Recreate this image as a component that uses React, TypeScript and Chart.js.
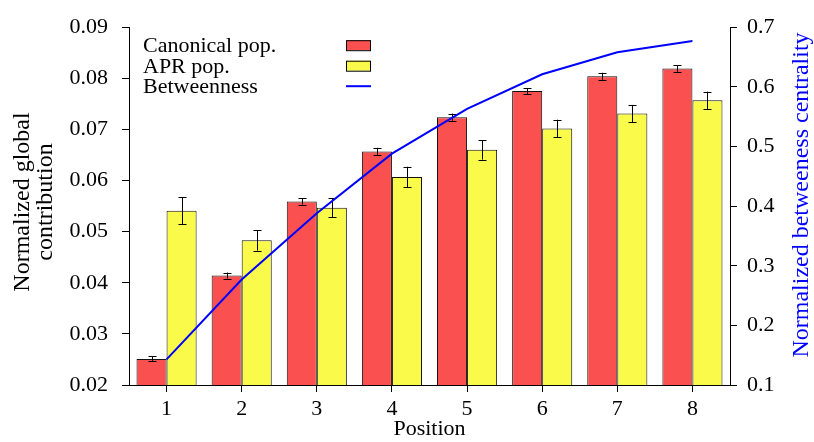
import { useEffect, useRef } from 'react';
import { Chart, registerables } from 'chart.js';

Chart.register(...registerables);

const FONT = "'Liberation Serif', 'Times New Roman', Times, serif";

const positions = ['1', '2', '3', '4', '5', '6', '7', '8'];
const canonicalPop = [0.0251, 0.0414, 0.0559, 0.0657, 0.0724, 0.0775, 0.0804, 0.0819];
const canonicalErr = [0.0005, 0.0006, 0.0006, 0.0007, 0.0007, 0.0006, 0.0007, 0.0007];
const aprPop = [0.0541, 0.0483, 0.0547, 0.0607, 0.066, 0.0702, 0.0731, 0.0757];
const aprErr = [0.0026, 0.002, 0.0019, 0.002, 0.0019, 0.0017, 0.0017, 0.0017];
const betweenness = [0.143, 0.277, 0.388, 0.488, 0.563, 0.621, 0.658, 0.677];

const RED = 'rgb(250,80,80)';
const YELLOW = 'rgb(250,250,75)';
const BLUE = 'rgb(0,0,255)';

const errorBarPlugin = {
  id: 'errorBars',
  afterDatasetDraw(chart: any, args: any) {
    const ds = chart.data.datasets[args.index];
    const errs: number[] | undefined = ds.errors;
    if (!errs) return;
    const ctx = chart.ctx;
    const yScale = chart.scales.y;
    ctx.save();
    ctx.strokeStyle = '#000';
    ctx.lineWidth = 1;
    args.meta.data.forEach((bar: any, i: number) => {
      const v = ds.data[i];
      const e = errs[i];
      const top = yScale.getPixelForValue(v + e);
      const bot = yScale.getPixelForValue(v - e);
      const x = Math.round(bar.x) + 0.5;
      ctx.beginPath();
      ctx.moveTo(x, top);
      ctx.lineTo(x, bot);
      ctx.moveTo(x - 4, Math.round(top) + 0.5);
      ctx.lineTo(x + 4, Math.round(top) + 0.5);
      ctx.moveTo(x - 4, Math.round(bot) + 0.5);
      ctx.lineTo(x + 4, Math.round(bot) + 0.5);
      ctx.stroke();
    });
    ctx.restore();
  },
};

const decorPlugin = {
  id: 'decor',
  afterDraw(chart: any) {
    const ctx = chart.ctx;
    const area = chart.chartArea;
    ctx.save();
    // legend
    ctx.font = `22px ${FONT}`;
    ctx.fillStyle = '#000';
    ctx.textAlign = 'left';
    ctx.textBaseline = 'alphabetic';
    const lx = area.left + 14;
    const sx = area.left + 217;
    const entries = [
      { label: 'Canonical pop.', kind: 'box', color: RED },
      { label: 'APR pop.', kind: 'box', color: YELLOW },
      { label: 'Betweenness', kind: 'line', color: BLUE },
    ];
    entries.forEach((en, i) => {
      const base = area.top + 25 + i * 20.5;
      ctx.fillStyle = '#000';
      ctx.fillText(en.label, lx, base);
      if (en.kind === 'box') {
        ctx.fillStyle = en.color;
        ctx.fillRect(sx, base - 12, 25, 10);
        ctx.strokeStyle = '#000';
        ctx.lineWidth = 1;
        ctx.strokeRect(sx + 0.5, base - 11.5, 24, 10);
      } else {
        ctx.strokeStyle = en.color;
        ctx.lineWidth = 2;
        ctx.beginPath();
        ctx.moveTo(sx, base - 7);
        ctx.lineTo(sx + 25, base - 7);
        ctx.stroke();
      }
    });

    // left title
    ctx.font = `24px ${FONT}`;
    ctx.textAlign = 'center';
    ctx.fillStyle = '#000';
    const ly = 202;
    [['Normalized global', 29], ['contribution', 52]].forEach(([t, x]) => {
      ctx.save();
      ctx.translate(x as number, ly);
      ctx.rotate(-Math.PI / 2);
      ctx.fillText(t as string, 0, 0);
      ctx.restore();
    });

    // right title
    ctx.save();
    ctx.fillStyle = BLUE;
    ctx.translate(808, 195);
    ctx.rotate(-Math.PI / 2);
    ctx.fillText('Normalized betweeness centrality', 0, 0);
    ctx.restore();

    ctx.restore();
  },
};

export default function App() {
  const ref = useRef<HTMLCanvasElement>(null);

  useEffect(() => {
    document.body.style.margin = '0';
    const tickFont = { family: FONT, size: 22 };
    const chart = new Chart(ref.current as HTMLCanvasElement, {
      type: 'bar',
      data: {
        labels: positions,
        datasets: [
          {
            type: 'line',
            label: 'Betweenness',
            data: betweenness,
            yAxisID: 'y1',
            borderColor: BLUE,
            borderWidth: 2,
            pointRadius: 0,
            tension: 0,
            fill: false,
            order: 0,
          } as any,
          {
            type: 'bar',
            label: 'Canonical pop.',
            data: canonicalPop,
            errors: canonicalErr,
            yAxisID: 'y',
            backgroundColor: RED,
            borderColor: '#111',
            borderWidth: 1,
            barPercentage: 1,
            categoryPercentage: 0.8,
            order: 1,
          } as any,
          {
            type: 'bar',
            label: 'APR pop.',
            data: aprPop,
            errors: aprErr,
            yAxisID: 'y',
            backgroundColor: YELLOW,
            borderColor: '#111',
            borderWidth: 1,
            barPercentage: 1,
            categoryPercentage: 0.8,
            order: 1,
          } as any,
        ],
      },
      options: {
        responsive: true,
        maintainAspectRatio: false,
        animation: false,
        layout: { padding: { top: 24, left: 0, right: 0, bottom: 0 } },
        plugins: {
          legend: { display: false },
          tooltip: { enabled: false },
        },
        scales: {
          x: {
            grid: {
              display: true,
              drawOnChartArea: false,
              drawTicks: true,
              tickLength: 7,
              color: '#000',
              offset: false,
            },
            border: { display: true, color: '#000', width: 1 },
            ticks: { color: '#000', font: tickFont, padding: 4, maxRotation: 0 },
            title: {
              display: true,
              text: 'Position',
              color: '#000',
              font: { family: FONT, size: 22 },
              padding: { top: 0, bottom: 0 },
            },
            afterFit: (s: any) => {
              s.height = 57;
            },
          },
          y: {
            position: 'left',
            min: 0.02,
            max: 0.09,
            grid: {
              display: true,
              drawOnChartArea: false,
              drawTicks: true,
              tickLength: 7,
              color: '#000',
            },
            border: { display: true, color: '#000', width: 1 },
            ticks: {
              stepSize: 0.01,
              color: '#000',
              font: tickFont,
              padding: 14,
              callback: (v: any) => Number(v).toFixed(2),
            },
            afterFit: (s: any) => {
              s.width = 129;
            },
          },
          y1: {
            position: 'right',
            min: 0.1,
            max: 0.7,
            grid: {
              display: true,
              drawOnChartArea: false,
              drawTicks: true,
              tickLength: 7,
              color: '#000',
            },
            border: { display: true, color: '#000', width: 1 },
            ticks: {
              stepSize: 0.1,
              color: '#000',
              font: tickFont,
              padding: 10,
              callback: (v: any) => Number(v).toFixed(1),
            },
            afterFit: (s: any) => {
              s.width = 84;
            },
          },
        },
      },
      plugins: [errorBarPlugin, decorPlugin],
    });
    return () => chart.destroy();
  }, []);

  return (
    <div style={{ width: 814, height: 442, position: 'relative' }}>
      <canvas ref={ref} />
    </div>
  );
}
